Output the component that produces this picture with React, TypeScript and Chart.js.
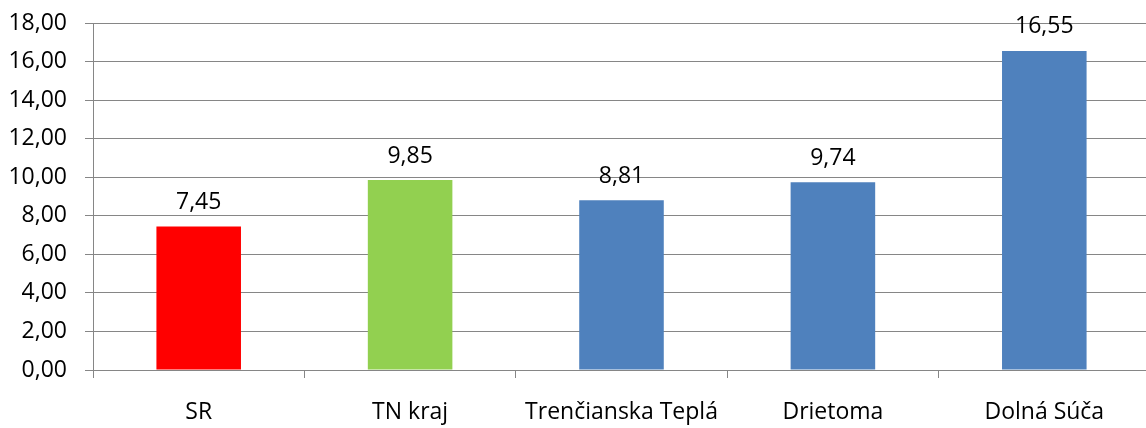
import React, { useEffect, useRef } from "react";
import { Chart, registerables } from "chart.js";

Chart.register(...registerables);

const categories = ["SR", "TN kraj", "Trenčianska Teplá", "Drietoma", "Dolná Súča"];
const values = [7.45, 9.85, 8.81, 9.74, 16.55];
const barColors = ["#FF0000", "#92D050", "#4F81BD", "#4F81BD", "#4F81BD"];
const yMin = 0;
const yMax = 18;
const yStep = 2;

const fmt = (v: number) => v.toFixed(2).replace(".", ",");
const FONT = "'Open Sans', Lato, sans-serif";
const FONT_SIZE = 23;
const GRID = "#868686";

const valueLabels = {
  id: "valueLabels",
  afterDatasetsDraw(chart: any) {
    const ctx = chart.ctx;
    const meta = chart.getDatasetMeta(0);
    ctx.save();
    ctx.fillStyle = "#000000";
    ctx.font = `${FONT_SIZE}px ${FONT}`;
    ctx.textAlign = "center";
    ctx.textBaseline = "middle";
    meta.data.forEach((bar: any, i: number) => {
      ctx.fillText(fmt(values[i]), bar.x, bar.y - 24);
    });
    ctx.restore();
  },
};

export default function App() {
  const ref = useRef<HTMLCanvasElement | null>(null);
  useEffect(() => {
    if (!ref.current) return;
    const chart = new Chart(ref.current, {
      type: "bar",
      data: {
        labels: categories,
        datasets: [
          {
            data: values,
            backgroundColor: barColors,
            borderWidth: 0,
            categoryPercentage: 1,
            barPercentage: 0.4,
          },
        ],
      },
      options: {
        animation: false,
        responsive: false,
        maintainAspectRatio: false,
        events: [],
        layout: { padding: { top: 23, right: 0, bottom: 0, left: 0 } },
        plugins: {
          legend: { display: false },
          tooltip: { enabled: false },
          title: { display: false },
        },
        scales: {
          x: {
            afterFit: (s: any) => {
              s.height = 58;
              s.paddingLeft = 0;
              s.paddingRight = 0;
            },
            grid: {
              display: true,
              offset: true,
              drawOnChartArea: false,
              drawTicks: true,
              tickLength: 8,
              color: GRID,
            },
            border: { display: true, color: GRID, width: 1 },
            ticks: {
              color: "#000000",
              font: { family: FONT, size: FONT_SIZE },
              padding: 21,
              maxRotation: 0,
              autoSkip: false,
            },
          },
          y: {
            min: yMin,
            max: yMax,
            afterFit: (s: any) => {
              s.width = 93;
              s.paddingTop = 0;
              s.paddingBottom = 0;
            },
            grid: {
              display: true,
              color: GRID,
              drawTicks: true,
              tickLength: 8,
              lineWidth: 1,
            },
            border: { display: true, color: GRID, width: 1 },
            ticks: {
              stepSize: yStep,
              color: "#000000",
              font: { family: FONT, size: FONT_SIZE },
              padding: 18,
              callback: (v: any) => fmt(Number(v)),
            },
          },
        },
      },
      plugins: [valueLabels],
    });
    return () => chart.destroy();
  }, []);
  return (
    <div style={{ position: "fixed", left: 0, top: 0, width: 1146, height: 428, overflow: "hidden", background: "#fff" }}>
      <canvas ref={ref} width={1150} height={428} style={{ display: "block" }} />
    </div>
  );
}
